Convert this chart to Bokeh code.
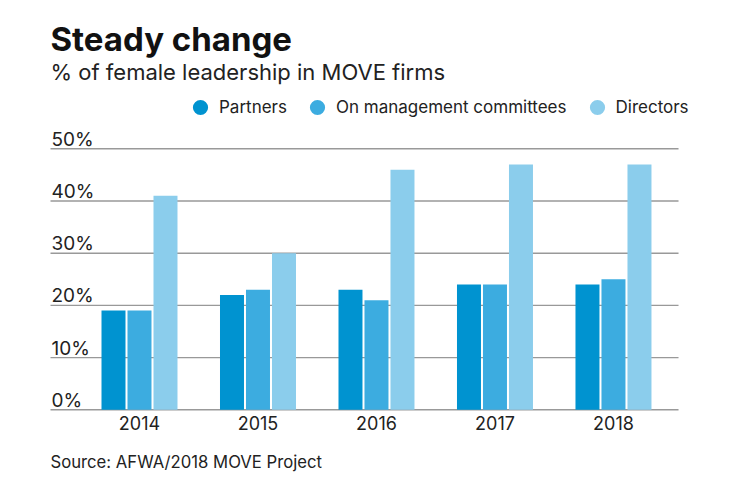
import numpy as np
from bokeh.plotting import figure
from bokeh.models import Range1d, Label, Legend, LegendItem
from bokeh.core.properties import value
from bokeh.embed import file_html
from bokeh.resources import INLINE

# ---- data ----
years = ["2014", "2015", "2016", "2017", "2018"]
partners = [19, 22, 23, 24, 24]
management = [19, 23, 21, 24, 25]
directors = [41, 30, 46, 47, 47]
y_ticks = [0, 10, 20, 30, 40, 50]
y_tick_labels = ["0%", "10%", "20%", "30%", "40%", "50%"]
series_names = ["Partners", "On management committees", "Directors"]
colors = ["#0093D0", "#3CACE0", "#8BCDEC"]

FONT = "Inter"
W, H = 740, 482

p = figure(width=W, height=H, output_backend="svg", toolbar_location=None,
           x_range=Range1d(-1.173, 5.072), y_range=Range1d(-13.93, 78.41),
           x_axis_location=None, y_axis_location=None, min_border=0)
p.grid.visible = False
p.outline_line_color = None
p.background_fill_color = "white"
p.border_fill_color = "white"

idx = np.arange(len(years))

# gridlines
gx0, gx1 = -0.751, 4.549
p.segment(x0=[gx0] * len(y_ticks), x1=[gx1] * len(y_ticks), y0=y_ticks, y1=y_ticks,
          line_color="#999999", line_width=1.4)

# bars
bw = 0.2025
off = 0.2194
for k, (vals, c) in enumerate(zip([partners, management, directors], colors)):
    p.vbar(x=idx + (k - 1) * off, top=vals, bottom=0, width=bw,
           fill_color=c, line_color=None)

# y tick labels (sit just above their gridline)
p.text(x=[gx0] * len(y_ticks), y=y_ticks, text=y_tick_labels, x_offset=1, y_offset=-9.5,
       text_font=value(FONT), text_font_size="19px", text_color="#222222",
       text_baseline="middle", text_align="left")

# year labels
p.text(x=idx, y=[0] * len(years), text=years, y_offset=13.5,
       text_font=value(FONT), text_font_size="18px", text_color="#222222",
       text_baseline="middle", text_align="center")

# legend with circle markers
dots = []
for name, c in zip(series_names, colors):
    d = p.scatter(x=[np.nan], y=[np.nan], marker="circle", fill_color=c, line_color=None, size=15)
    dots.append(d)
legend = Legend(items=[LegendItem(label=n, renderers=[d]) for n, d in zip(series_names, dots)],
                orientation="horizontal", location=(181, 356),
                glyph_width=38, glyph_height=38, label_standoff=-1, spacing=11,
                padding=0, margin=0, border_line_color=None, background_fill_alpha=0,
                label_text_font=FONT, label_text_font_size="17px", label_text_color="#222222")
p.add_layout(legend, "center")

# titles
p.add_layout(Label(x=50, y=H - 38, x_units="screen", y_units="screen", text="Steady change",
                   text_font=FONT, text_font_size="33px", text_font_style="bold",
                   text_color="#111111", text_baseline="middle"))
p.add_layout(Label(x=50, y=H - 71, x_units="screen", y_units="screen",
                   text="% of female leadership in MOVE firms",
                   text_font=FONT, text_font_size="22px", text_color="#222222",
                   text_baseline="middle"))
p.add_layout(Label(x=50, y=H - 461, x_units="screen", y_units="screen",
                   text="Source: AFWA/2018 MOVE Project",
                   text_font=FONT, text_font_size="16.7px", text_color="#222222",
                   text_baseline="middle"))

open("out.html", "w").write(file_html(p, INLINE))
